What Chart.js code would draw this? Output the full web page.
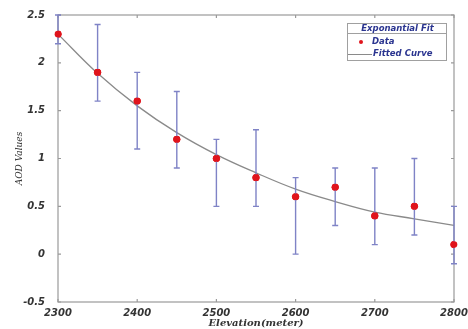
<!DOCTYPE html>
<html>
<head>
<meta charset="utf-8">
<script src="https://cdn.jsdelivr.net/npm/chart.js@4/dist/chart.umd.min.js"></script>
<style>
  html, body { margin: 0; padding: 0; background: #fff; }
  #wrap { width: 468px; height: 329px; }
</style>
</head>
<body>
<div id="wrap"><canvas id="aodChart" width="468" height="329"></canvas></div>
<script>
// data
const elevation = [2300, 2350, 2400, 2450, 2500, 2550, 2600, 2650, 2700, 2750, 2800];
const aod       = [2.3, 1.9, 1.6, 1.2, 1.0, 0.8, 0.6, 0.7, 0.4, 0.5, 0.1];
const errLow    = [2.2, 1.6, 1.1, 0.9, 0.5, 0.5, 0.0, 0.3, 0.1, 0.2, -0.1];
const errHigh   = [2.5, 2.4, 1.9, 1.7, 1.2, 1.3, 0.8, 0.9, 0.9, 1.0, 0.5];
const fitted    = [2.3, 1.89, 1.55, 1.27, 1.04, 0.85, 0.68, 0.55, 0.44, 0.37, 0.30];
const xTicks = [2300, 2400, 2500, 2600, 2700, 2800];
const yTicks = [-0.5, 0, 0.5, 1, 1.5, 2, 2.5];

const axisGray = '#9a9a9a';
const tickFont = { family: 'DejaVu Sans', size: 10, weight: 'bold', style: 'italic' };

// error bars + box with inward ticks
const errorBars = {
  id: 'errorBars',
  beforeDatasetsDraw(chart) {
    const { ctx, chartArea: a, scales: { x, y } } = chart;
    ctx.save();
    ctx.strokeStyle = axisGray;
    ctx.lineWidth = 1.2;
    ctx.strokeRect(a.left, a.top, a.right - a.left, a.bottom - a.top);
    ctx.beginPath();
    xTicks.forEach(v => {
      const px = x.getPixelForValue(v);
      ctx.moveTo(px, a.bottom); ctx.lineTo(px, a.bottom - 3);
      ctx.moveTo(px, a.top); ctx.lineTo(px, a.top + 3);
    });
    yTicks.forEach(v => {
      const py = y.getPixelForValue(v);
      ctx.moveTo(a.left, py); ctx.lineTo(a.left + 3, py);
      ctx.moveTo(a.right, py); ctx.lineTo(a.right - 3, py);
    });
    ctx.stroke();
    ctx.restore();
  },
  afterDatasetsDraw(chart) {
    const { ctx, scales: { x, y } } = chart;
    ctx.save();
    ctx.strokeStyle = '#7f83c6';
    ctx.lineWidth = 1.4;
    elevation.forEach((e, i) => {
      const px = x.getPixelForValue(e);
      const top = y.getPixelForValue(errHigh[i]);
      const bot = y.getPixelForValue(errLow[i]);
      ctx.beginPath();
      ctx.moveTo(px, top); ctx.lineTo(px, bot);
      ctx.moveTo(px - 3, top); ctx.lineTo(px + 3, top);
      ctx.moveTo(px - 3, bot); ctx.lineTo(px + 3, bot);
      ctx.stroke();
    });
    // redraw the red points on top of the bars
    const meta = chart.getDatasetMeta(0);
    ctx.fillStyle = '#e0141c';
    meta.data.forEach(p => {
      ctx.beginPath();
      ctx.arc(p.x, p.y, 3.3, 0, Math.PI * 2);
      ctx.fill();
    });
    ctx.restore();
  }
};

// legend box
const fitLegend = {
  id: 'fitLegend',
  afterDraw(chart) {
    const ctx = chart.ctx;
    const l = 347, t = 23, w = 99, h = 37;
    ctx.save();
    ctx.fillStyle = '#fff';
    ctx.fillRect(l, t, w, h);
    ctx.strokeStyle = '#a0a0a0';
    ctx.lineWidth = 1;
    ctx.strokeRect(l + 0.5, t + 0.5, w, h);
    ctx.beginPath();
    ctx.moveTo(l, t + 10.5); ctx.lineTo(l + w, t + 10.5);
    ctx.stroke();
    ctx.fillStyle = '#2b3590';
    ctx.font = 'italic bold 8.5px "DejaVu Sans"';
    ctx.textBaseline = 'middle';
    ctx.textAlign = 'center';
    ctx.fillText('Exponantial Fit', l + w / 2 + 1, t + 5.5);
    ctx.textAlign = 'left';
    ctx.fillText('Data', l + 25, t + 19);
    ctx.fillText('Fitted Curve', l + 26, t + 31);
    ctx.fillStyle = '#e0141c';
    ctx.beginPath();
    ctx.arc(l + 14, t + 19, 2, 0, Math.PI * 2);
    ctx.fill();
    ctx.strokeStyle = '#8a8a8a';
    ctx.beginPath();
    ctx.moveTo(l + 1, t + 31.5); ctx.lineTo(l + 25, t + 31.5);
    ctx.stroke();
    ctx.restore();
  }
};

new Chart(document.getElementById('aodChart').getContext('2d'), {
  type: 'scatter',
  data: {
    datasets: [
      {
        label: 'Data',
        data: elevation.map((e, i) => ({ x: e, y: aod[i] })),
        backgroundColor: '#e0141c',
        borderColor: '#e0141c',
        pointRadius: 3.3,
        order: 0
      },
      {
        label: 'Fitted Curve',
        type: 'line',
        data: elevation.map((e, i) => ({ x: e, y: fitted[i] })),
        borderColor: '#8a8a8a',
        borderWidth: 1.3,
        pointRadius: 0,
        tension: 0.4,
        fill: false,
        order: 2
      }
    ]
  },
  options: {
    responsive: false,
    animation: false,
    layout: { padding: { top: 15, right: 14, left: 0, bottom: 0 } },
    plugins: { legend: { display: false }, tooltip: { enabled: false } },
    scales: {
      x: {
        type: 'linear',
        min: 2300, max: 2800,
        afterBuildTicks: s => { s.ticks = xTicks.map(v => ({ value: v })); },
        afterFit: s => { s.height = 27; s.paddingLeft = 0; s.paddingRight = 0; },
        grid: { display: false, drawTicks: false },
        border: { display: false },
        ticks: { color: '#333', font: tickFont, padding: 5, maxRotation: 0, callback: v => String(v) },
        title: {
          display: true, text: 'Elevation(meter)', color: '#333',
          font: { family: 'DejaVu Serif', size: 10, weight: 'bold', style: 'italic' },
          padding: { top: 0, bottom: 0 }
        }
      },
      y: {
        min: -0.5, max: 2.5,
        afterBuildTicks: s => { s.ticks = yTicks.map(v => ({ value: v })); },
        afterFit: s => { s.width = 58; s.paddingTop = 0; s.paddingBottom = 0; },
        grid: { display: false, drawTicks: false },
        border: { display: false },
        ticks: { color: '#333', font: tickFont, padding: 13, callback: v => String(v) },
        title: {
          display: true, text: 'AOD Values', color: '#333',
          font: { family: 'DejaVu Serif', size: 9, style: 'italic' },
          padding: { top: 14, bottom: 0 }
        }
      }
    }
  },
  plugins: [errorBars, fitLegend]
});
</script>
</body>
</html>
